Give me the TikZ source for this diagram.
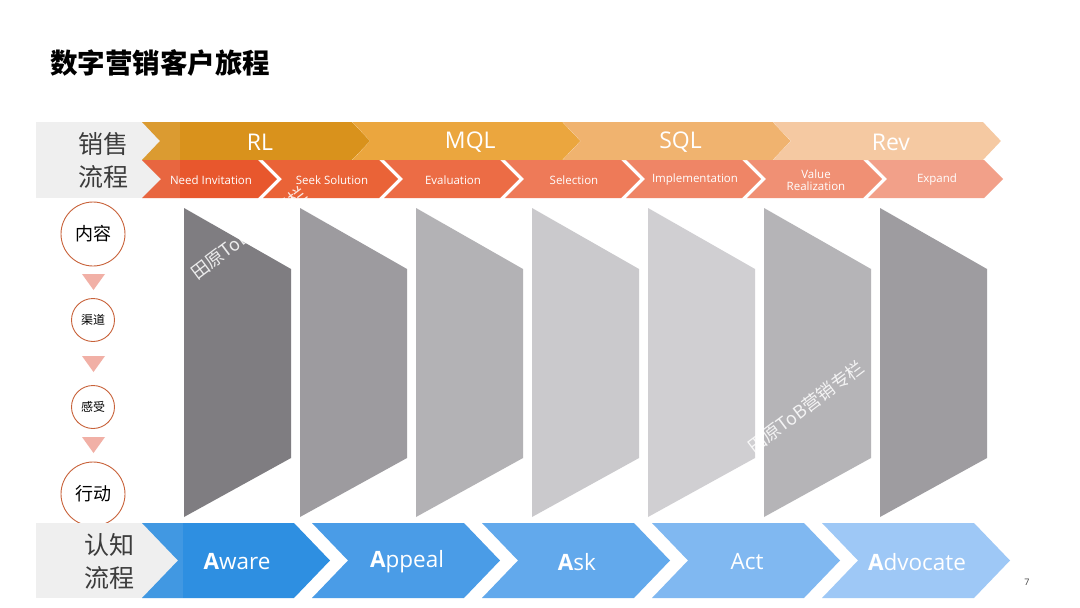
\documentclass[tikz,border=0pt]{standalone}
\usepackage{fontspec}
\setmainfont{Open Sans}
\newfontfamily\cjk{Noto Sans CJK SC}
\definecolor{bandgray}{HTML}{EFEFEF}
\definecolor{ro1}{HTML}{D9921C}
\definecolor{ro2}{HTML}{EBA63E}
\definecolor{ro3}{HTML}{F0B36F}
\definecolor{ro4}{HTML}{F5C9A2}
\definecolor{rr1}{HTML}{E8572D}
\definecolor{rr2}{HTML}{EA6337}
\definecolor{rr3}{HTML}{EC6C45}
\definecolor{rr4}{HTML}{EE7A58}
\definecolor{rr5}{HTML}{EF8566}
\definecolor{rr6}{HTML}{F09074}
\definecolor{rr7}{HTML}{F2A089}
\definecolor{bb1}{HTML}{2E8FE1}
\definecolor{bb2}{HTML}{4A9CE7}
\definecolor{bb3}{HTML}{62A9EC}
\definecolor{bb4}{HTML}{80B8F1}
\definecolor{bb5}{HTML}{9EC8F6}
\definecolor{gs1}{HTML}{7F7D81}
\definecolor{gs2}{HTML}{9D9B9F}
\definecolor{gs3}{HTML}{B3B2B5}
\definecolor{gs4}{HTML}{CAC9CC}
\definecolor{gs5}{HTML}{D0CFD2}
\definecolor{gs6}{HTML}{B5B4B7}
\definecolor{gs7}{HTML}{9E9CA0}
\definecolor{circ}{HTML}{C8623A}
\definecolor{tri}{HTML}{F1B0A6}
\definecolor{labtext}{HTML}{3C3C3C}
\tikzset{
  stagetxt/.style={text=white, font=\fontsize{23}{26}\selectfont, inner sep=0pt},
  substxt/.style={text=white, font=\fontsize{11.5}{12.5}\selectfont, inner sep=0pt, align=center},
  awaretxt/.style={text=white, font=\fontsize{22.5}{25}\selectfont, inner sep=0pt},
  sidelabel/.style={text=labtext, font=\cjk\fontsize{25}{33}\selectfont, align=center, inner sep=0pt},
  stepcircle/.style={circle, draw=circ, line width=0.9pt, text=black, inner sep=0pt},
  watermark/.style={text=white, opacity=0.85, font=\cjk\fontsize{18}{20}\selectfont, rotate=37, inner sep=0pt}
}
\begin{document}
\begin{tikzpicture}[x=1pt,y=-1pt]
\useasboundingbox (0,0) rectangle (1080,608);
\fill[white] (0,0) rectangle (1080,608);

% title
\node[anchor=west, font=\cjk\bfseries\fontsize{27.5}{30}\selectfont, inner sep=0pt] (title) at (50,63) {数字营销客户旅程};

% top gray band
\fill[bandgray] (36,122) rectangle (160,198);
% row 1 chevrons
\foreach \i/\c/\t in {0/ro1/RL,1/ro2/MQL,2/ro3/SQL,3/ro4/Rev} {
  \pgfmathsetmacro\L{142+210.3*\i}
  \fill[\c] (\L,122) -- ++(210,0) -- ++(18,19) -- ++(-18,19) -- ++(-210,0) -- ++(18,-19) -- cycle;
  \node[stagetxt] (stage\i) at (\L+118,142) {\t};
}
% row 2 chevrons
\foreach \i/\c/\t in {0/rr1/Need Invitation,1/rr2/Seek Solution,2/rr3/Evaluation,3/rr4/Selection,4/rr5/Implementation,5/rr6/{Value\\Realization},6/rr7/Expand} {
  \pgfmathsetmacro\L{142+121*\i}
  \fill[\c] (\L,160) -- ++(116,0) -- ++(19,19) -- ++(-19,19) -- ++(-116,0) -- ++(19,-19) -- cycle;
  \node[substxt] (sub\i) at (\L+69,180) {\t};
}
\fill[bandgray, opacity=0.1] (142,122) rectangle (180,198);
\node[sidelabel] (saleslabel) at (103,160) {销售\\流程};

% gray funnel shapes
\foreach \i/\c in {0/gs1,1/gs2,2/gs3,3/gs4,4/gs5,5/gs6,6/gs7} {
  \pgfmathsetmacro\L{184+116*\i}
  \fill[\c] (\L,208) -- (\L+107,269) -- (\L+107,458) -- (\L,517) -- cycle;
}

% left column circles and triangles
\node[stepcircle, minimum size=64pt, font=\cjk\fontsize{18}{20}\selectfont] (neirong) at (93,234) {内容};
\node[stepcircle, minimum size=43pt, font=\cjk\fontsize{12}{14}\selectfont] (qudao) at (93,320) {渠道};
\node[stepcircle, minimum size=43pt, font=\cjk\fontsize{12}{14}\selectfont] (ganshou) at (93,407) {感受};
\node[stepcircle, minimum size=64pt, font=\cjk\fontsize{18}{20}\selectfont] (xingdong) at (93,494) {行动};
\foreach \y in {274,356,437} {
  \fill[tri] (82,\y) -- (105,\y) -- (93.5,\y+16) -- cycle;
}

% bottom band
\fill[bandgray] (36,523) rectangle (178,598);
\foreach \i/\c/\t in {0/bb1/{\textbf{A}ware},1/bb2/{\textbf{A}ppeal},2/bb3/{\textbf{A}sk},3/bb4/{Act},4/bb5/{\textbf{A}dvocate}} {
  \pgfmathsetmacro\L{142+170*\i}
  \fill[\c] (\L,523) -- ++(152,0) -- ++(36,37.5) -- ++(-36,37.5) -- ++(-152,0) -- ++(36,-37.5) -- cycle;
  \node[awaretxt] (aware\i) at (\L+95,562) {\t};
}
\fill[bandgray, opacity=0.1] (142,523) rectangle (183,598);
\node[sidelabel] (cognlabel) at (109,561) {认知\\流程};

% watermarks
\node[watermark] (wm1) at (249,233) {田原ToB营销专栏};
\node[watermark] (wm2) at (806,407) {田原ToB营销专栏};

% page number
\node[font=\fontsize{9}{10}\selectfont, text=black!75, inner sep=0pt] (pagenum) at (1027,582) {7};
\end{tikzpicture}
\end{document}
